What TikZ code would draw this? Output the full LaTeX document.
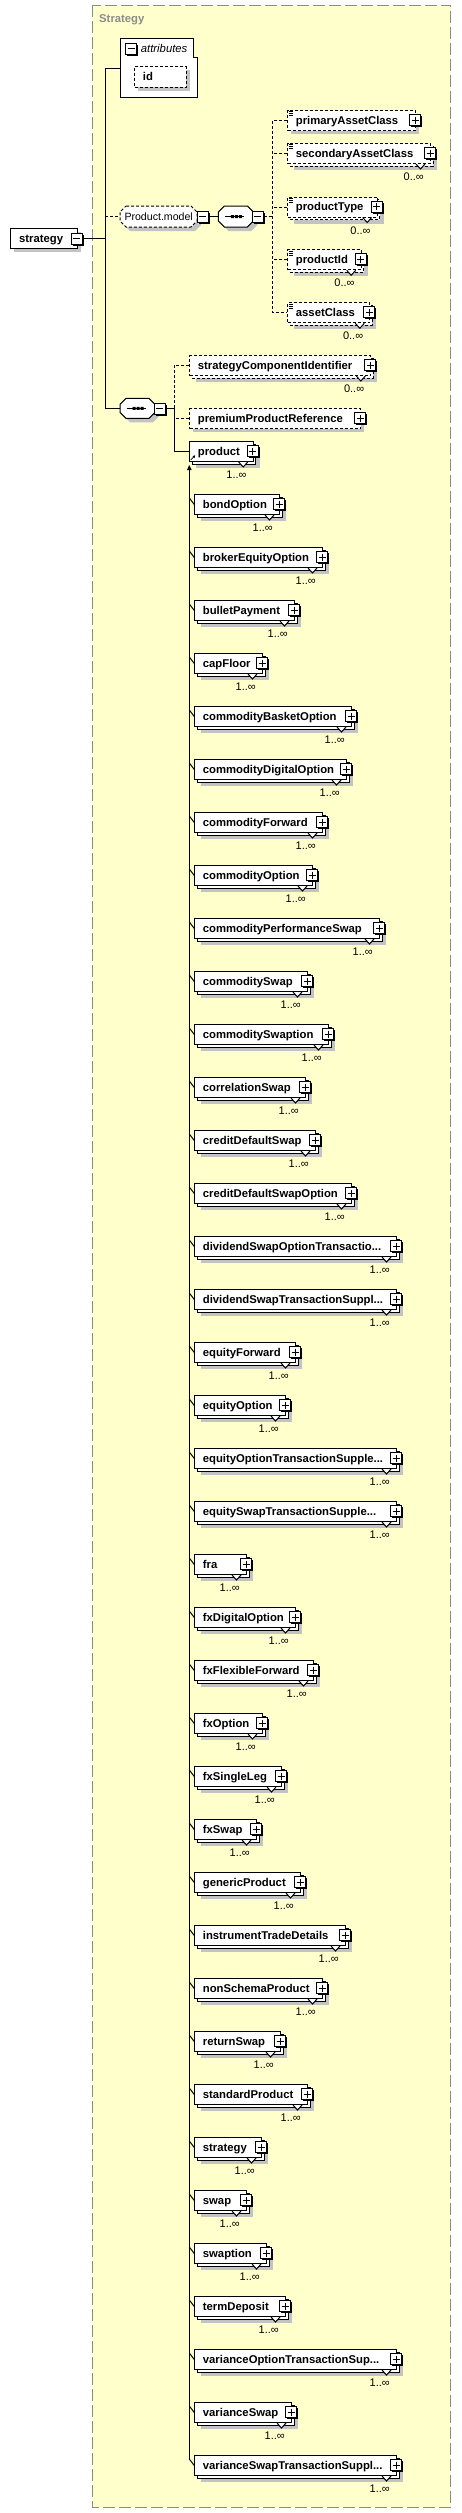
\documentclass[tikz,border=0pt]{standalone}
\usepackage{fontspec}
\setmainfont{Liberation Sans}
\usetikzlibrary{arrows.meta}
\definecolor{bgy}{HTML}{FFFFCC}
\definecolor{shd}{HTML}{C3C3C3}
\definecolor{brd}{HTML}{8C8C8C}
\newcommand\edots{...}
\tikzset{
  ln/.style={line width=1pt},
  dl/.style={line width=1pt, dash pattern=on 3pt off 2pt},
  elfont/.style={font=\fontsize{11.3}{13}\selectfont\bfseries},
  mfont/.style={font=\fontsize{11}{13}\selectfont},
  txt/.style={anchor=base west, inner sep=0pt},
  mtxt/.style={mfont, anchor=base east, inner sep=0pt},
  ebox/.style={draw, fill=white, anchor=north west, minimum height=20pt, inner sep=0pt},
}
% plus / minus boxes
\newcommand\plusbx[2]{%
  \fill[black] (#1-4,#2-4) rectangle (#1+7,#2+7);
  \draw[ln,fill=white] (#1-5.5,#2-5.5) rectangle (#1+5.5,#2+5.5);
  \draw[ln] (#1-3.5,#2) -- (#1+3.5,#2) (#1,#2-3.5) -- (#1,#2+3.5);}
\newcommand\minusbx[2]{%
  \fill[black] (#1-4,#2-4) rectangle (#1+7,#2+7);
  \draw[ln,fill=white] (#1-5.5,#2-5.5) rectangle (#1+5.5,#2+5.5);
  \draw[ln] (#1-3.5,#2) -- (#1+3.5,#2);}
% octagon: style, L, T, R, B, cut
\newcommand\octo[6]{%
  \path[#1] (#2+#6,#3) -- (#4-#6,#3) -- (#4,#3+#6) -- (#4,#5-#6) -- (#4-#6,#5) -- (#2+#6,#5) -- (#2,#5-#6) -- (#2,#3+#6) -- cycle;}
% simple-content icon
\newcommand\eqicon[2]{%
  \draw[line width=0.8pt] (#1+1.3,#2+1.7) -- (#1+6,#2+1.7) (#1+1.3,#2+3.7) -- (#1+6,#2+3.7) (#1+1.3,#2+5.7) -- (#1+6,#2+5.7);}
% single box: name, L, T, R, text, style
\newcommand\sglbox[6]{%
  \pgfmathsetmacro\ewidth{#4-#2}
  \fill[shd] (#2+4,#3+4) rectangle (#4+4,#3+24);
  \node[ebox, #6, minimum width=\ewidth pt] (#1) at (#2,#3) {};
  \node[elfont, txt] (#1t) at (#2+8.4,#3+14) {#5};
  \plusbx{#4}{#3+10}}
% stacked box: name, L, T, R, text, style, multiplicity
\newcommand\stkbox[7]{%
  \pgfmathsetmacro\ewidth{#4-#2}
  \fill[shd] (#2+7,#3+7) rectangle (#4+7,#3+27);
  \draw[#6, fill=white] (#2+3,#3+3) rectangle (#4+3,#3+23);
  \draw[ln, fill=white] (#4-14,#3+21) -- (#4-9.5,#3+26) -- (#4-5,#3+21);
  \node[ebox, #6, minimum width=\ewidth pt] (#1) at (#2,#3) {};
  \node[elfont, txt] (#1t) at (#2+8.4,#3+14) {#5};
  \plusbx{#4}{#3+10}
  \node[mtxt] (#1m) at (#4-6,#3+37.5) {#7};}

\begin{document}
\begin{tikzpicture}[x=1pt,y=-1pt]
\useasboundingbox (0,0) rectangle (461,2513);
\fill[white] (0,0) rectangle (461,2513);
% outer group
\draw[brd, line width=1pt, dash pattern=on 12pt off 4pt, fill=bgy] (92.3,5.3) rectangle (450.7,2507);
\node[elfont, txt, text=brd] (title) at (99,22.3) {Strategy};

% root element
\fill[shd] (14.3,232.3) rectangle (80.7,252.3);
\node[ebox, ln, minimum width=66.4pt] (root) at (10.3,228.3) {};
\node[elfont, txt] (roott) at (19,242.3) {strategy};
\minusbx{76.7}{238.5}
\coordinate (rootm) at (82.5,238.3);

% attributes
\draw[ln, fill=white] (120.3,38.3) -- (193.3,38.3) -- (193.3,57.3) -- (197.7,57.3) -- (197.7,97.3) -- (120.3,97.3) -- cycle;
\coordinate (attrw) at (120.3,68.3);
\minusbx{131}{48.8}
\node[font=\fontsize{11.3}{13}\selectfont\itshape, txt] (attrt) at (140.7,52.5) {attributes};
\fill[shd] (138.3,70) rectangle (189.7,90.7);
\node[ebox, dl, minimum width=51.4pt, minimum height=20.7pt] (id) at (134.3,66) {};
\node[elfont, txt] (idt) at (142.7,80.3) {id};

% Product.model group
\octo{fill=shd}{124}{210}{201}{231}{6}
\octo{dl, draw, fill=white}{120}{206}{197}{227}{6}
\coordinate (pmw) at (120,216.5);
\node[font=\fontsize{10.6}{12}\selectfont, txt] (pmt) at (124.3,220) {Product.model};
\minusbx{202.8}{216.5}
\coordinate (pme) at (208.5,216.5);

% sequence 1
\octo{fill=shd}{222.3}{210}{257.3}{231}{6}
\octo{ln, draw, fill=white}{218.3}{206}{253.3}{227}{6}
\coordinate (s1w) at (218.3,216.5);
\draw[ln] (224.8,216.5) -- (244.3,216.5);
\fill (230.8,215) rectangle (233.8,218) (234.8,215) rectangle (237.8,218) (238.8,215) rectangle (241.8,218);
\minusbx{257.8}{216.5}
\coordinate (s1e) at (263.5,216.5);

% sequence 2
\octo{fill=shd}{124}{402.3}{159}{422.3}{6}
\octo{ln, draw, fill=white}{120}{398.3}{155}{418.3}{6}
\coordinate (s2w) at (120,408.3);
\draw[ln] (126.5,408.3) -- (146,408.3);
\fill (132.5,406.8) rectangle (135.5,409.8) (136.5,406.8) rectangle (139.5,409.8) (140.5,406.8) rectangle (143.5,409.8);
\minusbx{159.7}{408.8}
\coordinate (s2e) at (165.3,408.3);

% Product.model children
\sglbox{pac}{287.3}{110}{415}{primaryAssetClass}{dl}
\eqicon{287.3}{110}
\stkbox{sac}{287.3}{143}{430}{secondaryAssetClass}{dl}{0..∞}
\eqicon{287.3}{143}
\stkbox{pt}{287.3}{196.5}{376.7}{productType}{dl}{0..∞}
\eqicon{287.3}{196.5}
\stkbox{pid}{287.3}{249.3}{360.7}{productId}{dl}{0..∞}
\eqicon{287.3}{249.3}
\stkbox{ac}{287.3}{302.3}{369.3}{assetClass}{dl}{0..∞}
\eqicon{287.3}{302.3}

% sequence 2 children
\stkbox{sci}{189.3}{355}{370.3}{strategyComponentIdentifier}{dl}{0..∞}
\sglbox{ppr}{189.3}{408.3}{360.3}{premiumProductReference}{dl}
\stkbox{prod}{189.3}{441}{252.7}{product}{ln}{1..∞}
\draw[line width=0.8pt, -{Triangle[length=2.5pt,width=2.5pt]}] (190.8,459.8) -- (195.3,455.3);

% connectors, top level
\coordinate (ja) at (105.3,68.3);
\coordinate (jb) at (105.3,216.5);
\coordinate (jc) at (105.3,238.3);
\coordinate (jd) at (105.3,408.3);
\draw[ln] (ja) -- (jd);
\draw[ln] (ja) -- (attrw);
\draw[ln] (rootm) -- (jc);
\draw[dl] (jb) -- (pmw);
\draw[ln] (jd) -- (s2w);
\draw[ln] (pme) -- (s1w);
\coordinate (jm) at (272.7,216.5);
\draw[dl] (s1e) -- (jm);
\draw[dl] (pac.west) -- ++(-14.6,0) coordinate (jp1) -- (jp1 |- ac.west) -- (ac.west);
\draw[dl] (sac.west) -- ++(-14.6,0);
\draw[dl] (pt.west) -- ++(-14.6,0);
\draw[dl] (pid.west) -- ++(-14.6,0);
\coordinate (jq) at (174,408.3);
\draw[ln] (s2e) -- (jq);
\draw[dl] (sci.west) -- ++(-15.3,0) coordinate (jq1) -- (jq);
\draw[dl] (ppr.west) -- (ppr.west -| jq);
\draw[ln] (jq) -- (jq |- prod.west) -- (prod.west);

% substitution group members
\coordinate (subtop) at (189.3,465);
\coordinate (subbot) at (189.3,2460);
\draw[ln, -{Triangle[length=5pt,width=4.5pt]}] (subbot) -- (subtop);
\foreach \i/\nm/\r in {
 0/bondOption/279, 1/brokerEquityOption/322, 2/bulletPayment/294, 3/capFloor/262,
 4/commodityBasketOption/351, 5/commodityDigitalOption/346, 6/commodityForward/322,
 7/commodityOption/312, 8/commodityPerformanceSwap/379, 9/commoditySwap/307,
 10/commoditySwaption/328, 11/correlationSwap/305, 12/creditDefaultSwap/315,
 13/creditDefaultSwapOption/351, 14/dividendSwapOptionTransactio\edots/396,
 15/dividendSwapTransactionSuppl\edots/396, 16/equityForward/295, 17/equityOption/285,
 18/equityOptionTransactionSupple\edots/396, 19/equitySwapTransactionSupple\edots/396,
 20/fra/246, 21/fxDigitalOption/295, 22/fxFlexibleForward/313, 23/fxOption/262,
 24/fxSingleLeg/281, 25/fxSwap/256, 26/genericProduct/300, 27/instrumentTradeDetails/345,
 28/nonSchemaProduct/322, 29/returnSwap/280, 30/standardProduct/307, 31/strategy/261,
 32/swap/246, 33/swaption/266, 34/termDeposit/285,
 35/varianceOptionTransactionSup\edots/396, 36/varianceSwap/291,
 37/varianceSwapTransactionSuppl\edots/396}{
  \pgfmathsetmacro\etop{494+53*\i}
  \stkbox{e\i}{194.3}{\etop}{\r}{\nm}{ln}{1..∞}
  \draw[ln] (189.3,\etop+4) -- (e\i.west);
}
\end{tikzpicture}
\end{document}
